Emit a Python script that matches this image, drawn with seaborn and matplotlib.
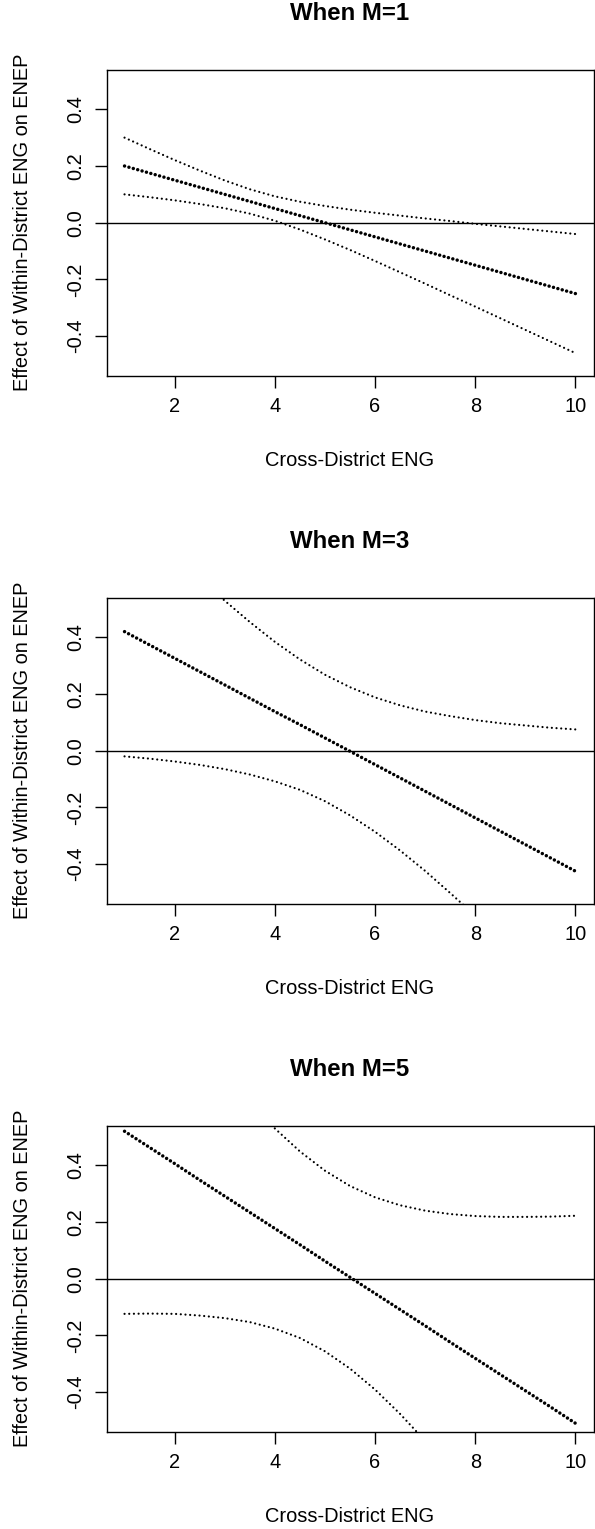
import matplotlib
matplotlib.use("Agg")
import matplotlib.pyplot as plt
import seaborn as sns
import pandas as pd

# ---- data ----
x_eng = [1, 1.5, 2, 2.5, 3, 3.5, 4, 4.5, 5, 5.5, 6, 6.5, 7, 7.5, 8, 8.5, 9, 9.5, 10]

m1_effect = [0.200, 0.175, 0.150, 0.125, 0.100, 0.075, 0.050, 0.025, 0.000, -0.025,
             -0.050, -0.075, -0.100, -0.125, -0.150, -0.175, -0.200, -0.225, -0.250]
m1_upper = [0.300, 0.260, 0.221, 0.184, 0.149, 0.118, 0.093, 0.074, 0.059, 0.046,
            0.035, 0.025, 0.015, 0.006, -0.004, -0.013, -0.022, -0.031, -0.040]
m1_lower = [0.100, 0.090, 0.079, 0.066, 0.051, 0.032, 0.007, -0.024, -0.059, -0.096,
            -0.135, -0.175, -0.215, -0.256, -0.296, -0.337, -0.378, -0.419, -0.460]

m3_effect = [0.420, 0.373, 0.326, 0.279, 0.232, 0.185, 0.138, 0.092, 0.045, -0.002,
             -0.049, -0.096, -0.143, -0.190, -0.237, -0.284, -0.331, -0.378, -0.425]
m3_upper = [0.860, 0.774, 0.690, 0.608, 0.529, 0.454, 0.384, 0.322, 0.268, 0.224,
            0.188, 0.160, 0.138, 0.122, 0.108, 0.097, 0.089, 0.081, 0.075]
m3_lower = [-0.020, -0.028, -0.038, -0.050, -0.065, -0.084, -0.108, -0.138, -0.178, -0.228,
            -0.286, -0.352, -0.424, -0.502, -0.582, -0.666, -0.751, -0.837, -0.925]

m5_effect = [0.520, 0.463, 0.406, 0.348, 0.291, 0.234, 0.177, 0.120, 0.062, 0.005,
             -0.052, -0.109, -0.166, -0.224, -0.281, -0.338, -0.395, -0.452, -0.510]
m5_upper = [1.164, 1.049, 0.936, 0.826, 0.721, 0.621, 0.530, 0.449, 0.381, 0.327,
            0.287, 0.259, 0.240, 0.228, 0.221, 0.218, 0.218, 0.219, 0.222]
m5_lower = [-0.124, -0.123, -0.124, -0.130, -0.139, -0.153, -0.176, -0.209, -0.256, -0.317,
            -0.391, -0.477, -0.572, -0.675, -0.783, -0.894, -1.008, -1.124, -1.242]

titles = ["When M=1", "When M=3", "When M=5"]
x_ticks = [2, 4, 6, 8, 10]
y_ticks = [-0.4, -0.2, 0.0, 0.2, 0.4]
y_ticklabels = ["-0.4", "-0.2", "0.0", "0.2", "0.4"]
x_label = "Cross-District ENG"
y_label = "Effect of Within-District ENG on ENEP"

panels = [
    (m1_effect, m1_upper, m1_lower),
    (m3_effect, m3_upper, m3_lower),
    (m5_effect, m5_upper, m5_lower),
]

# ---- style ----
sns.set_theme(style="white")
plt.rcParams["font.family"] = ["Liberation Sans", "DejaVu Sans"]
plt.rcParams["axes.unicode_minus"] = False

W, H, DPI = 595, 1529, 100
fig = plt.figure(figsize=(W / DPI, H / DPI), dpi=DPI)
fig.patch.set_facecolor("white")

left_px, right_px = 106.5, 593.5
top0, bot0, step = 69.6, 375.8, 528.0
ax_w_px = right_px - left_px
ax_h_px = bot0 - top0

thin = dict(color="black", linewidth=1.6, linestyle=(0, (0.01, 2.1)),
            dash_capstyle="round")
thick = dict(color="black", linewidth=2.5, linestyle=(0, (0.01, 1.3)),
             dash_capstyle="round")

for k, (eff, up, lo) in enumerate(panels):
    bottom_px = bot0 + step * k
    ax = fig.add_axes([left_px / W, 1 - bottom_px / H, ax_w_px / W, ax_h_px / H])
    df = pd.DataFrame({"x": x_eng, "effect": eff, "upper": up, "lower": lo})

    sns.lineplot(data=df, x="x", y="upper", ax=ax, **thin)
    sns.lineplot(data=df, x="x", y="lower", ax=ax, **thin)
    sns.lineplot(data=df, x="x", y="effect", ax=ax, **thick)
    ax.axhline(0, color="black", linewidth=1.0)

    ax.set_xlim(0.64, 10.36)
    ax.set_ylim(-0.54, 0.54)
    ax.set_xticks(x_ticks)
    ax.set_xticklabels([str(t) for t in x_ticks])
    ax.set_yticks(y_ticks)
    ax.set_yticklabels(y_ticklabels, rotation=90, va="center")

    for sp in ax.spines.values():
        sp.set_visible(True)
        sp.set_color("black")
        sp.set_linewidth(1.0)

    ax.tick_params(axis="both", which="major", direction="out", length=8.3,
                   width=1.0, color="black", labelsize=14.4, labelcolor="black",
                   bottom=True, left=True)
    ax.tick_params(axis="x", pad=7)
    ax.tick_params(axis="y", pad=7)

    ax.set_xlabel(x_label, fontsize=14.4, color="black")
    ax.xaxis.label.set_va("center")
    ax.xaxis.set_label_coords(0.5, -84.5 / ax_h_px)
    ax.set_ylabel(y_label, fontsize=14.4, color="black")
    ax.yaxis.label.set_va("center")
    ax.yaxis.set_label_coords(-84.0 / ax_w_px, 0.5)

    ax.set_title(titles[k], fontsize=17.3, fontweight="bold", color="black",
                 y=1 + 47.5 / ax_h_px, va="center")
    ax.grid(False)

fig.savefig("out.png", dpi=DPI, facecolor="white")
